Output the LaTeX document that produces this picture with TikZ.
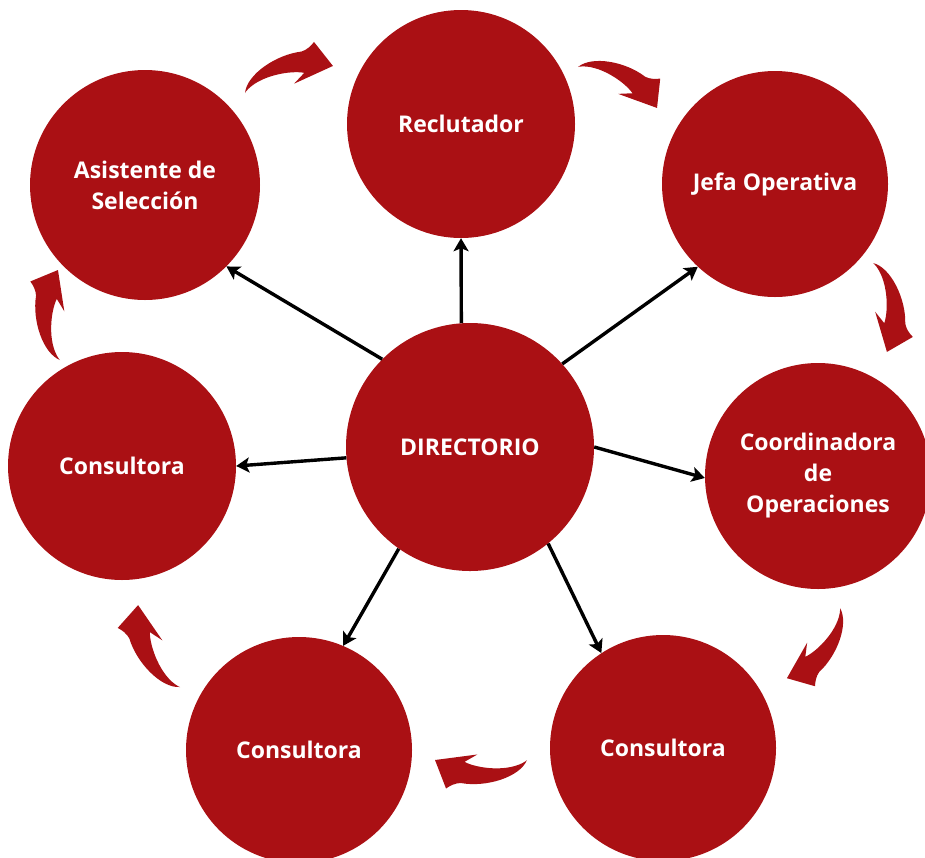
\documentclass[tikz,border=0pt]{standalone}
\usepackage{fontspec}
\setmainfont{Open Sans}
\usetikzlibrary{arrows.meta}
\definecolor{redc}{RGB}{170,16,20}
\tikzset{
  role/.style={circle, fill=redc, draw=none, inner sep=0pt, text=white, align=center,
    font=\bfseries\fontsize{23}{31}\selectfont},
  link/.style={line width=3.4pt, black, -{Stealth[length=13pt,width=15pt,inset=3pt]}}
}
\newcommand\ringarrow[4]{%
  \fill[redc, shift={(#1,#2)}, rotate=#3, scale=#4]
    (0,0) .. controls (8,-19) and (45,-30) .. (72,-25)
    .. controls (78,-25) and (84,-28) .. (88,-31)
    -- (100,0) -- (54,6) -- (68,-2)
    .. controls (55,-9) and (20,-14) .. (1,-1) -- cycle;}
\begin{document}
\begin{tikzpicture}[x=1pt,y=-1pt]
\useasboundingbox (0,0) rectangle (925,857);
\clip (0,0) rectangle (925,857);
\fill[white] (0,0) rectangle (925,857);
\node[role, minimum size=248pt] (dir) at (470,447) {DIRECTORIO};
\node[role, minimum size=228pt] (rec) at (461,124) {Reclutador};
\node[role, minimum size=226pt] (jefa) at (775,184) {Jefa Operativa};
\node[role, minimum size=226pt] (coord) at (818,476) {Coordinadora\\de\\Operaciones};
\node[role, minimum size=226pt] (consr) at (663,748) {Consultora};
\node[role, minimum size=226pt] (consb) at (299,750) {Consultora};
\node[role, minimum size=228pt] (consl) at (122,466) {Consultora};
\node[role, minimum size=230pt] (asis) at (145,185) {Asistente de\\Selección};
\draw[link] (dir.94) -- (rec.270);
\draw[link] (dir.42) -- (jefa.227);
\draw[link] (dir.0) -- (coord.181);
\draw[link] (dir.-51) -- (consr.123);
\draw[link] (dir.235) -- (consb.67);
\draw[link] (dir.185) -- (consl.0);
\draw[link] (dir.135) -- (asis.315);
\ringarrow{245}{93}{17.1}{0.92}
\ringarrow{578}{67}{-27.4}{0.89}
\ringarrow{873}{263}{-81.1}{0.90}
\ringarrow{840}{608}{-127.1}{0.88}
\ringarrow{527}{760}{180}{0.92}
\ringarrow{180}{687}{117.1}{0.92}
\ringarrow{60}{360}{91.3}{0.90}
\end{tikzpicture}
\end{document}
